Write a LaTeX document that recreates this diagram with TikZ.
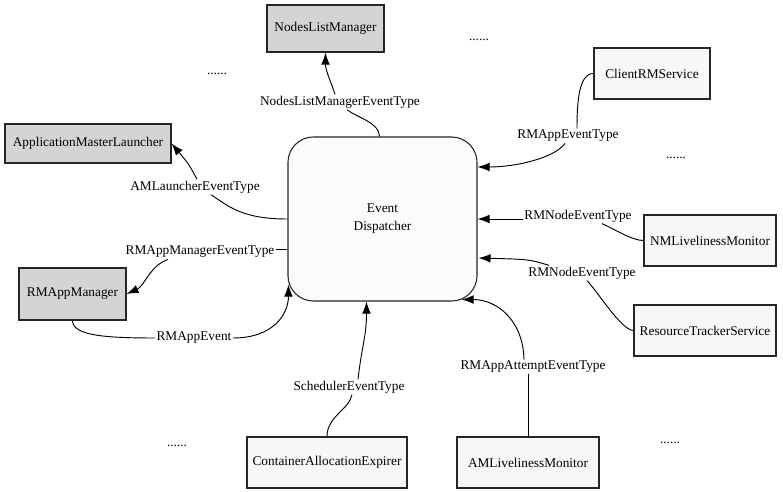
\documentclass[tikz,border=0pt]{standalone}
\usepackage{fontspec}
\setmainfont{Liberation Serif}
\usetikzlibrary{arrows.meta,calc}
\begin{document}
\begin{tikzpicture}[x=0.75pt,y=-0.75pt,
  font=\fontsize{10}{12}\selectfont,
  dkbox/.style={draw=black!85,line width=0.8pt,fill=gray!34,inner sep=0pt},
  ltbox/.style={draw=black!85,line width=0.8pt,fill=gray!6,inner sep=0pt},
  lbl/.style={inner sep=1pt},
  con/.style={line width=0.7pt},
  arr/.style={con,-{Latex[length=9pt,width=6.5pt]}},
  dots/.style={inner sep=0pt}]
\useasboundingbox (0,0) rectangle (783,492);
% boxes
\node[dkbox,minimum width=87.75pt,minimum height=35.25pt] (NLM) at (325.5,28.5) {NodesListManager};
\node[dkbox,minimum width=124.5pt,minimum height=29.25pt] (AML) at (88,143.5) {ApplicationMasterLauncher};
\node[dkbox,minimum width=80.25pt,minimum height=39pt] (RMM) at (72.5,294) {RMAppManager};
\node[ltbox,minimum width=87pt,minimum height=38.25pt] (CRS) at (652,73.5) {ClientRMService};
\node[ltbox,minimum width=99pt,minimum height=38.25pt] (NML) at (710,240.5) {NMLivelinessMonitor};
\node[ltbox,minimum width=106.5pt,minimum height=38.25pt] (RTS) at (705,330.5) {ResourceTrackerService};
\node[ltbox,minimum width=120pt,minimum height=38.25pt] (CAE) at (327,462.5) {ContainerAllocationExpirer};
\node[ltbox,minimum width=106.5pt,minimum height=38.25pt] (AMLM) at (528,462.5) {AMLivelinessMonitor};
\node[draw=black!85,line width=0.8pt,fill=gray!3,rounded corners=19pt,minimum width=141.75pt,minimum height=123pt,align=center] (ED) at (382.5,219) {Event\\[1.5pt]Dispatcher};
% labels
\node[lbl] (lNLM) at (340,102) {NodesListManagerEventType};
\node[lbl] (lAML) at (195,187) {AMLauncherEventType};
\node[lbl] (lRMM) at (200,252) {RMAppManagerEventType};
\node[lbl] (lRAE) at (194,338) {RMAppEvent};
\node[lbl] (lSET) at (349,387) {SchedulerEventType};
\node[lbl] (lRAAE) at (533,367) {RMAppAttemptEventType};
\node[lbl] (lRN2) at (582,273) {RMNodeEventType};
\node[lbl] (lRN1) at (578,216) {RMNodeEventType};
\node[lbl] (lRAET) at (568,136) {RMAppEventType};
% dots
\node[dots] (d1) at (217,74) {......};
\node[dots] (d2) at (479,40) {......};
\node[dots] (d3) at (676,158) {......};
\node[dots] (d4) at (177,446) {......};
\node[dots] (d5) at (670,443) {......};
% connectors
\draw[con] ($(ED.north)+(-3,0)$) .. controls +(0,-14) and +(10,8) .. ($(lNLM.south)+(7,0)$);
\draw[arr] ($(lNLM.north)+(-5,0)$) .. controls +(-5,-15) and +(0,18) .. (NLM.south);
\draw[con] (ED.west) .. controls +(-45,0) and +(18,12) .. ($(lAML.south)+(16,0)$);
\draw[arr] ($(lAML.north)+(2,0)$) .. controls +(-8,-15) .. (AML.east);
\draw[con] ($(ED.west)+(0,30)$) -- ($(lRMM.east)+(0,-3)$);
\draw[arr] ($(lRMM.south)+(-32,0)$) .. controls +(-18,6) and +(18,-8) .. (RMM.east);
\draw[con] (RMM.south) .. controls +(0,15) and +(-50,0) .. (lRAE.west);
\draw[arr] (lRAE.east) .. controls +(40,0) and +(0,30) .. ($(ED.south west)+(1,-17)$);
\draw[con] (CAE.north) .. controls +(0,-20) and +(-3,15) .. ($(lSET.south)+(3,0)$);
\draw[arr] ($(lSET.north)+(9,0)$) .. controls +(4,-35) and +(0,35) .. ($(ED.south)+(-16,0)$);
\draw[con] (AMLM.north) -- (AMLM.north |- lRAAE.south);
\draw[arr] ($(lRAAE.north)+(-9,0)$) .. controls +(-1,-40) and +(35,0) .. ($(ED.south east)+(-16,-2)$);
\draw[con] (RTS.west) .. controls +(-12,0) and +(10,10) .. ($(lRN2.south)+(5,0)$);
\draw[arr] ($(lRN2.north)+(-33,0)$) .. controls +(-20,-6) .. ($(ED.east)+(1,39)$);
\draw[con] (NML.west) .. controls +(-12,0) and +(12,5) .. ($(lRN1.south)+(24,0)$);
\draw[arr] (lRN1.west |- ED.east) -- (ED.east);
\draw[con] (CRS.west) .. controls +(-15,0) and +(0,-25) .. ($(lRAET.north)+(9,0)$);
\draw[arr] ($(lRAET.south)+(-3,0)$) .. controls +(-10,14) and +(40,0) .. ($(ED.east)+(0,-52)$);
\end{tikzpicture}
\end{document}
